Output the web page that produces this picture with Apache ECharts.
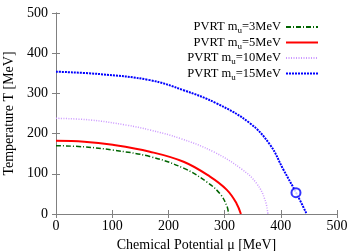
<!DOCTYPE html>
<html><head><meta charset="utf-8">
<script src="https://cdn.jsdelivr.net/npm/echarts@6/dist/echarts.min.js"></script>
<style>html,body{margin:0;padding:0;background:#fff}#c{width:358px;height:251px}</style>
</head><body><div id="c"></div>
<script>
const seriesNames = ['PVRT m_u=3MeV', 'PVRT m_u=5MeV', 'PVRT m_u=10MeV', 'PVRT m_u=15MeV'];
const mu3  = [0, 50, 101, 167, 227, 268, 292, 304, 307];
const T3   = [170, 167, 159, 143, 114, 80, 50, 20, 0];
const mu5  = [0, 50, 101, 167, 227, 274, 304, 321, 329];
const T5   = [182, 180, 172, 155, 130, 93, 60, 27, 0];
const mu10 = [0, 60, 126, 167, 221, 280, 330, 357, 372, 377];
const T10  = [238, 234, 221, 209, 188, 155, 112, 76, 35, 0];
const mu15 = [0, 78, 167, 227, 286, 345, 381, 404, 428, 446];
const T15  = [354, 348, 333, 308, 275, 226, 172, 112, 51, 0];
const markerPoint = [427, 53];
const xTicks = [0, 100, 200, 300, 400, 500];
const yTicks = [0, 100, 200, 300, 400, 500];

const zip = (a, b) => a.map((v, i) => [v, b[i]]);
const font = 'Liberation Serif';
const axisColor = '#808080';
const baseAxis = {
  type: 'value', min: 0, max: 500, interval: 100,
  axisLine: { show: true, lineStyle: { color: axisColor, width: 1 } },
  axisTick: { show: true, inside: true, length: 4, lineStyle: { color: axisColor } },
  splitLine: { show: false }
};
const chart = echarts.init(document.getElementById('c'), null, { renderer: 'canvas' });
const styles = [
  { color: '#006400', type: [5, 2, 1, 2], width: 1.5 },
  { color: '#ff0000', type: 'solid', width: 2 },
  { color: '#cc99ff', type: [1, 1.5], width: 1.5 },
  { color: '#0000ff', type: [2, 1], width: 2 }
];
const datas = [zip(mu3, T3), zip(mu5, T5), zip(mu10, T10), zip(mu15, T15)];
chart.setOption({
  animation: false,
  grid: { left: 56, right: 21, top: 13, bottom: 37, containLabel: false, outerBoundsMode: 'none' },
  xAxis: [
    Object.assign({}, baseAxis, {
      position: 'bottom',
      name: 'Chemical Potential μ [MeV]', nameLocation: 'middle', nameGap: 22,
      nameTextStyle: { fontFamily: font, fontSize: 14, color: '#000' },
      axisLabel: { fontFamily: font, fontSize: 14, color: '#000', margin: 5,
        formatter: v => xTicks.includes(v) ? String(v) : '' }
    }),
    Object.assign({}, baseAxis, { position: 'top', axisLabel: { show: false } })
  ],
  yAxis: [
    Object.assign({}, baseAxis, {
      position: 'left',
      name: 'Temperature T [MeV]', nameLocation: 'middle', nameGap: 37,
      nameTextStyle: { fontFamily: font, fontSize: 14, color: '#000' },
      axisLabel: { fontFamily: font, fontSize: 14, color: '#000', margin: 8,
        formatter: v => yTicks.includes(v) ? String(v) : '' }
    }),
    Object.assign({}, baseAxis, { position: 'right', axisLabel: { show: false } })
  ],
  legend: {
    orient: 'vertical', right: 34, top: 13.5, align: 'right',
    itemWidth: 32, itemHeight: 10, itemGap: -1.5,
    itemStyle: { opacity: 0 },
    data: seriesNames,
    formatter: n => n.replace('m_u', 'm{sub|u}'),
    textStyle: {
      fontFamily: font, fontSize: 12.5, color: '#000', lineHeight: 17,
      rich: { sub: { fontFamily: font, fontSize: 9, color: '#000', lineHeight: 9, padding: [8, 0, 0, 0] } }
    }
  },
  series: seriesNames.map((n, i) => ({
    name: n, type: 'line', data: datas[i], smooth: 0.4,
    symbol: 'none', showSymbol: false,
    lineStyle: styles[i], itemStyle: { color: styles[i].color }
  })).concat([{
    type: 'scatter', data: [markerPoint], symbol: 'circle', symbolSize: 9,
    itemStyle: { color: '#fff', borderColor: '#0000ff', borderWidth: 2 }, z: 5
  }])
});
</script></body></html>
